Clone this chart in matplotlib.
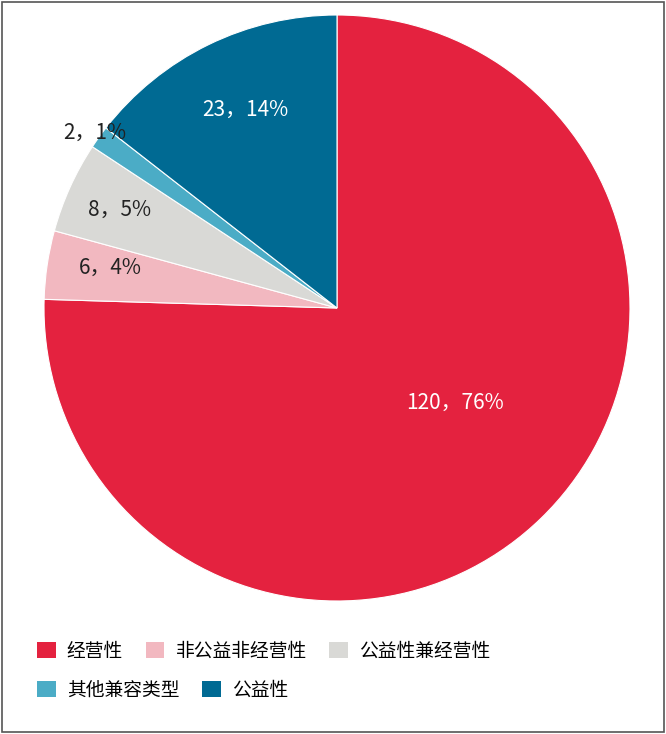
import matplotlib.pyplot as plt
from matplotlib.patches import Patch, Rectangle

categories = ['经营性', '非公益非经营性', '公益性兼经营性', '其他兼容类型', '公益性']
values = [120, 6, 8, 2, 23]
percents = ['76%', '4%', '5%', '1%', '14%']
colors = ['#E4223F', '#F2B8C0', '#D9D9D6', '#4BACC6', '#006A93']
label_colors = ['white', '#222222', '#222222', '#222222', 'white']
# label centres in pixels of the 666x734 image
label_px = [(455, 403), (110, 268), (120, 210), (95, 133), (245, 110)]

plt.rcParams['font.family'] = 'Noto Sans CJK SC'
W, H = 666, 734
cx, cy, r = 337, 308, 293
fig = plt.figure(figsize=(W / 100, H / 100), dpi=100)
fig.patches.append(Rectangle((2 / W, 2 / H), 1 - 4 / W, 1 - 4 / H, transform=fig.transFigure,
                             fill=False, edgecolor='#555555', linewidth=1.2))
ax = fig.add_axes([(cx - r) / W, (H - cy - r) / H, 2 * r / W, 2 * r / H])
ax.pie(values, colors=colors, startangle=90, counterclock=False, radius=1,
       wedgeprops=dict(linewidth=0.8, edgecolor='white'))
ax.set_xlim(-1, 1)
ax.set_ylim(-1, 1)
ax.set_aspect('equal')
ax.axis('off')

for v, p, c, (px, py) in zip(values, percents, label_colors, label_px):
    ax.text((px - cx) / r, (cy - py) / r, f'{v}，{p}', color=c, fontsize=15,
            ha='center', va='center')

handles = [Patch(facecolor=c, edgecolor='none') for c in colors]
fig.legend(handles[:3], categories[:3], loc='center left', bbox_to_anchor=(20 / W, 1 - 651 / H),
           ncol=3, frameon=False, fontsize=13.5, handlelength=1.0, handleheight=1.0,
           columnspacing=1.2, handletextpad=0.6)
fig.legend(handles[3:], categories[3:], loc='center left', bbox_to_anchor=(20 / W, 1 - 690 / H),
           ncol=2, frameon=False, fontsize=13.5, handlelength=1.0, handleheight=1.0,
           columnspacing=1.2, handletextpad=0.6)
fig.savefig('out.png', dpi=100)
